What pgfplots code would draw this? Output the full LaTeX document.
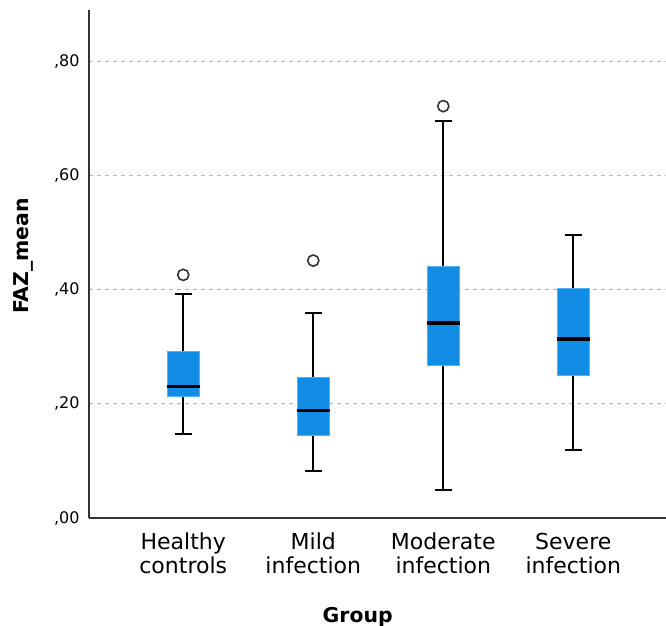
\documentclass[border=0pt]{standalone}
\usepackage{fontspec}
\setmainfont{DejaVu Sans}
\usepackage{pgfplots}
\pgfplotsset{compat=1.18}
\usepgfplotslibrary{statistics}
\definecolor{boxfill}{RGB}{18,141,230}
\definecolor{boxedge}{RGB}{90,175,240}
\definecolor{gridgray}{RGB}{185,185,185}
\definecolor{outl}{RGB}{50,50,50}
\begin{document}
\begin{tikzpicture}
\useasboundingbox (-44.5pt,-54pt) rectangle (288.5pt,259pt);
\begin{axis}[
  scale only axis, width=288.5pt, height=254pt,
  xmin=0.275, xmax=4.713, ymin=0, ymax=0.89,
  axis x line*=bottom, axis y line*=left,
  axis line style={line width=0.7pt, draw=black!80},
  major tick length=0pt,
  xtick={1,2,3,4},
  xticklabels={{\strut Healthy\\controls},{\strut Mild\\infection},{\strut Moderate\\infection},{\strut Severe\\infection}},
  xticklabel style={align=center, font=\fontsize{11}{12}\selectfont, inner sep=0pt, anchor=north, yshift=-7pt},
  ytick={0,0.2,0.4,0.6,0.8},
  yticklabels={{,00},{,20},{,40},{,60},{,80}},
  yticklabel style={font=\fontsize{8}{10}\selectfont, inner sep=0pt, xshift=-4.5pt},
  ymajorgrids,
  grid style={gridgray, dash pattern=on 2pt off 2pt, line width=0.6pt},
  xlabel={\textbf{Group}},
  every axis x label/.style={at={(axis description cs:0.4657,0)}, anchor=base, yshift=-52.5pt, font=\fontsize{10.2}{12}\selectfont},
  ylabel={\textbf{FAZ\_mean}},
  every axis y label/.style={at={(axis description cs:-0.1127,0.516)}, rotate=90, anchor=center, font=\fontsize{10.2}{12}\selectfont},
  boxplot/draw direction=y,
  boxplot/box extend=0.25,
  boxplot/whisker extend=0.13,
  boxplot/every box/.style={draw=boxedge, fill=boxfill, line width=0.5pt},
  boxplot/every whisker/.style={draw=black, line width=1.1pt},
  boxplot/every median/.style={draw=black, line width=1.6pt},
]
\addplot[mark=o, mark size=2.8pt, mark options={draw=outl, line width=0.8pt, fill=white},
  boxplot prepared={draw position=1, lower whisker=0.147, lower quartile=0.213, median=0.230, upper quartile=0.292, upper whisker=0.393}]
  table[row sep=\\, y index=0] {0.426\\};
\addplot[mark=o, mark size=2.8pt, mark options={draw=outl, line width=0.8pt, fill=white},
  boxplot prepared={draw position=2, lower whisker=0.083, lower quartile=0.144, median=0.188, upper quartile=0.247, upper whisker=0.359}]
  table[row sep=\\, y index=0] {0.451\\};
\addplot[mark=o, mark size=2.8pt, mark options={draw=outl, line width=0.8pt, fill=white},
  boxplot prepared={draw position=3, lower whisker=0.049, lower quartile=0.267, median=0.3415, upper quartile=0.441, upper whisker=0.696}]
  table[row sep=\\, y index=0] {0.7216\\};
\addplot[mark=o, mark size=2.8pt, mark options={draw=outl, line width=0.8pt, fill=white},
  boxplot prepared={draw position=4, lower whisker=0.119, lower quartile=0.2497, median=0.3135, upper quartile=0.402, upper whisker=0.4965}]
  coordinates {};
\end{axis}
\end{tikzpicture}
\end{document}
